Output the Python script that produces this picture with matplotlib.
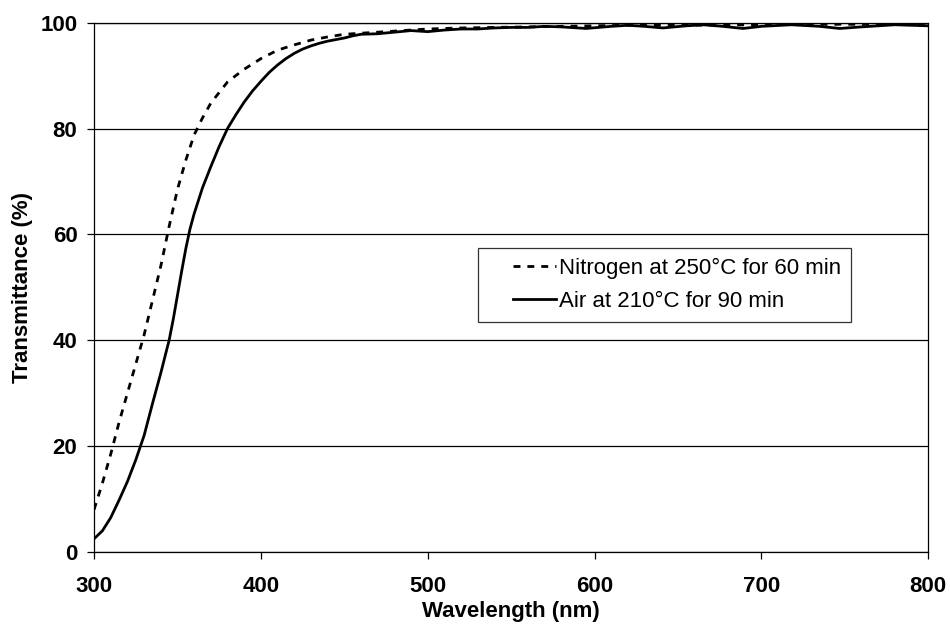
import matplotlib
matplotlib.use('Agg')
import matplotlib.pyplot as plt
from matplotlib.legend_handler import HandlerLine2D

plt.rcParams['font.family'] = ['Liberation Sans', 'DejaVu Sans']

# 氮氣 (Nitrogen at 250°C for 60 min)
wl_n2 = [300, 305, 310, 315, 320, 325, 330, 335, 340, 345, 350, 355, 360, 365,
         370, 375, 380, 385, 390, 395, 400, 410, 420, 430, 440, 450, 460, 470,
         480, 490, 500, 520, 540, 560, 580, 600, 620, 650, 700, 750, 800]
t_n2 = [8.0, 13.0, 18.5, 24.5, 30.0, 35.5, 41.0, 47.5, 54.0, 61.5, 68.5, 74.0,
        78.8, 82.0, 84.8, 86.8, 88.8, 90.0, 91.2, 92.2, 93.2, 94.8, 95.8, 96.7,
        97.3, 97.8, 98.0, 98.2, 98.4, 98.6, 98.8, 99.0, 99.1, 99.2, 99.3, 99.4,
        99.5, 99.5, 99.6, 99.7, 99.6]

# 空氣 (Air at 210°C for 90 min)
wl_air = [300, 305, 310, 315, 320, 325, 330, 335, 340, 345, 347.5, 350, 352.5,
          355, 357.5, 360, 365, 370, 375, 380, 385, 390, 395, 400, 405, 410,
          415, 420, 425, 430, 435, 440, 445, 450, 455, 460, 470, 480, 490, 500,
          510, 520, 530, 540, 550, 560, 570, 580, 595, 610, 620, 630, 641, 655,
          665, 677, 689, 700, 718, 735, 747, 760, 780, 800]
t_air = [2.5, 4.0, 6.5, 9.8, 13.3, 17.4, 22.0, 28.0, 33.8, 40.0, 44.0, 48.5,
         53.0, 57.3, 61.0, 63.9, 68.8, 72.8, 76.6, 80.0, 82.6, 85.0, 87.1, 88.9,
         90.6, 92.0, 93.2, 94.2, 95.0, 95.6, 96.1, 96.5, 96.8, 97.1, 97.5, 97.8,
         97.9, 98.2, 98.5, 98.3, 98.6, 98.8, 98.8, 99.0, 99.1, 99.1, 99.3, 99.2,
         98.9, 99.3, 99.5, 99.3, 99.0, 99.4, 99.6, 99.3, 98.9, 99.3, 99.6, 99.3,
         98.9, 99.2, 99.6, 99.4]

x_ticks = [300, 400, 500, 600, 700, 800]
y_ticks = [0, 20, 40, 60, 80, 100]

fig = plt.figure(figsize=(9.5, 6.29), dpi=100)
ax = fig.add_axes([0.099, 0.1224, 0.878, 0.8416])

ax.plot(wl_n2, t_n2, color='black', lw=2, linestyle=(0, (2.5, 2.5)),
        label='Nitrogen at 250°C for 60 min')
ax.plot(wl_air, t_air, color='black', lw=2, label='Air at 210°C for 90 min')

ax.set_xlim(300, 800)
ax.set_ylim(0, 100)
ax.set_xticks(x_ticks)
ax.set_yticks(y_ticks)
ax.yaxis.grid(True, color='black', lw=0.9)
ax.set_axisbelow(True)
for s in ax.spines.values():
    s.set_color('black')
    s.set_linewidth(0.9)
ax.tick_params(direction='out', length=5, width=0.9, labelsize=16)
ax.tick_params(axis='x', pad=12)
ax.tick_params(axis='y', pad=7)
for lab in ax.get_xticklabels() + ax.get_yticklabels():
    lab.set_fontweight('bold')

ax.set_xlabel('Wavelength (nm)', fontsize=16, fontweight='bold', labelpad=3)
ax.set_ylabel('Transmittance (%)', fontsize=16, fontweight='bold', labelpad=5)

# 圖例: 線條往右縮一點
hmap = {l: HandlerLine2D(xpad=1.1) for l in ax.get_lines()}
leg = ax.legend(loc='upper left', bbox_to_anchor=(0.4604, 0.5743), fontsize=16,
                frameon=True, fancybox=False, handlelength=3.05, handletextpad=0.15,
                borderpad=0.45, labelspacing=0.52, borderaxespad=0,
                handler_map=hmap)
leg.get_frame().set_edgecolor('black')
leg.get_frame().set_linewidth(0.9)

fig.savefig('out.png', dpi=100)
